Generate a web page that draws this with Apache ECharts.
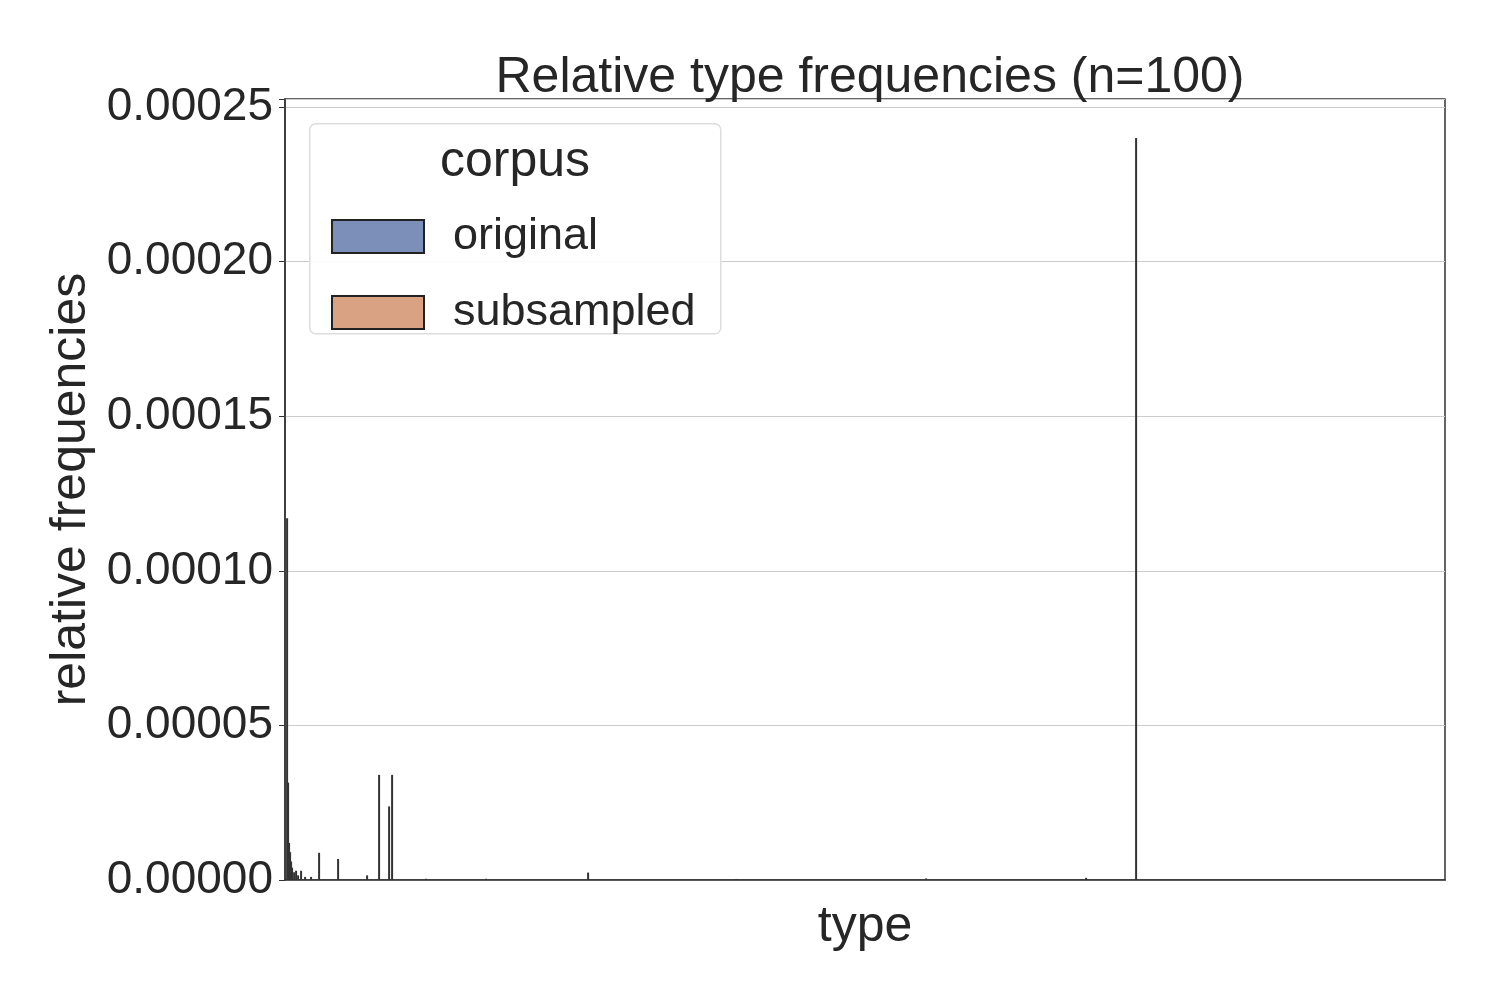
<!DOCTYPE html>
<html>
<head>
<meta charset="utf-8">
<script src="https://cdn.jsdelivr.net/npm/echarts@6/dist/echarts.min.js"></script>
<style>html,body{margin:0;padding:0;background:#fff}#main{width:1500px;height:1000px}</style>
</head>
<body>
<div id="main"></div>
<script>
// type rank positions (sparse) and relative frequencies
var typeIndex = [1, 2, 3, 4, 5, 6, 8, 10, 12, 15, 19, 25, 33, 52, 81, 93, 103, 106, 140, 200, 302, 450, 640, 800, 850];
var relFreq = [0.000117, 0.0000315, 0.000012, 0.000009, 0.000006, 0.000004, 0.0000025, 0.000003, 0.0000015, 0.000003, 0.000001, 0.000001,
  0.0000088, 0.0000068, 0.0000015, 0.000034, 0.0000238, 0.000034, 0.0000004, 0.0000004, 0.0000024, 0.0000003, 0.0000005, 0.0000007, 0.00024];
var yTicks = ['0.00000', '0.00005', '0.00010', '0.00015', '0.00020', '0.00025'];
var corpora = ['original', 'subsampled'];
var corpusColors = ['#7b8fb8', '#d9a283'];

var points = typeIndex.map(function (t, i) { return [t, relFreq[i]]; });
var font = 'Arial, "Liberation Sans", sans-serif';

var chart = echarts.init(document.getElementById('main'));
var legendSeries = corpora.map(function (name, i) {
  return { name: name, type: 'bar', data: [], itemStyle: { color: corpusColors[i], borderColor: '#222', borderWidth: 1 } };
});
chart.setOption({
  animation: false,
  title: { text: 'Relative type frequencies (n=100)', left: 865, top: 48, textAlign: 'center',
    textStyle: { fontFamily: font, fontSize: 50, fontWeight: 'normal', color: '#262626' } },
  grid: { left: 285, right: 55, top: 99, bottom: 120, show: true, borderColor: '#333', borderWidth: 1.5, backgroundColor: '#fff' },
  xAxis: { type: 'value', min: 0, max: 1160, name: 'type', nameLocation: 'middle', nameGap: 22,
    nameTextStyle: { fontFamily: font, fontSize: 50, color: '#262626' },
    axisLine: { show: true, lineStyle: { color: '#333', width: 1.5 } }, axisTick: { show: false },
    axisLabel: { show: false }, splitLine: { show: false } },
  yAxis: { type: 'value', min: 0, max: 0.0002526, interval: 0.00005, name: 'relative frequencies',
    nameLocation: 'middle', nameGap: 188,
    nameTextStyle: { fontFamily: font, fontSize: 50, color: '#262626' },
    axisLine: { show: true, lineStyle: { color: '#333', width: 1.5 } },
    axisTick: { show: true, length: 6, lineStyle: { color: '#333' } },
    axisLabel: { fontFamily: font, fontSize: 46, color: '#262626', margin: 12,
      formatter: function (v) { var i = Math.round(v / 0.00005); return Math.abs(v - i * 0.00005) < 1e-9 ? yTicks[i] : ''; } },
    splitLine: { show: true, lineStyle: { color: '#cccccc', width: 1 } } },
  legend: { orient: 'vertical', left: 326, top: 209, itemWidth: 92, itemHeight: 33, itemGap: 31, z: 20,
    icon: 'rect', data: corpora, selectedMode: false,
    textStyle: { fontFamily: font, fontSize: 45, color: '#262626', padding: [0, 0, 0, 24] } },
  graphic: [
    { type: 'rect', left: 309, top: 123, z: 3, silent: true,
      shape: { width: 411, height: 210, r: 6 }, style: { fill: 'rgba(255,255,255,0.9)', stroke: '#dddddd', lineWidth: 1.5 } },
    { type: 'text', left: 440, top: 137, z: 21,
      style: { text: 'corpus', font: '50px ' + font, fill: '#262626' } }
  ],
  series: legendSeries.concat([
    { name: 'types', type: 'bar', data: points, barWidth: 2, z: 2,
      itemStyle: { color: '#333' } }
  ])
});
</script>
</body>
</html>
